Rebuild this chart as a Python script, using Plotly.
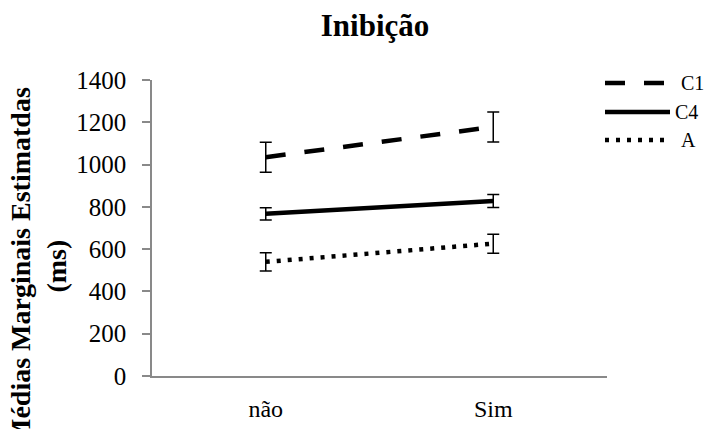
import plotly.graph_objects as go

categories = ["não", "Sim"]
series_names = ["C1", "C4", "A"]
c1_values = [1035, 1178]
c1_errors = [71, 71]
c4_values = [767, 828]
c4_errors = [29, 31]
a_values = [540, 626]
a_errors = [43, 45]
y_ticks = [0, 200, 400, 600, 800, 1000, 1200, 1400]

FONT = "Liberation Serif, Times New Roman, serif"
W, H = 709, 429
L, R, T, B = 152, 102, 80, 53
PW, PH = W - L - R, H - T - B

styles = {
    "C1": dict(dash="20px,19px", width=4.5),
    "C4": dict(dash="solid", width=4.5),
    "A": dict(dash="4px,7px", width=4.5),
}

fig = go.Figure()
for name, vals, errs in [("C1", c1_values, c1_errors),
                         ("C4", c4_values, c4_errors),
                         ("A", a_values, a_errors)]:
    fig.add_trace(go.Scatter(
        x=categories, y=vals, name=name, mode="lines",
        line=dict(color="black", **styles[name]),
        error_y=dict(type="data", array=errs, visible=True,
                     color="black", thickness=1.5, width=6),
        showlegend=False,
    ))

def px2paper(px, py):
    return (px - L) / PW, (H - B - py) / PH

# manual legend (long line samples like the original)
legend_rows = [("C1", 83, 679), ("C4", 112, 673), ("A", 140, 679)]
for name, py, tx in legend_rows:
    x0, y0 = px2paper(605, py)
    x1, _ = px2paper(670, py)
    fig.add_shape(type="line", xref="paper", yref="paper",
                  x0=x0, x1=x1, y0=y0, y1=y0,
                  line=dict(color="black", **styles[name]))
    ax, _ = px2paper(tx, py)
    fig.add_annotation(xref="paper", yref="paper", x=ax, y=y0,
                       xanchor="left", yanchor="middle", showarrow=False,
                       text=name, font=dict(family=FONT, size=20, color="black"))

tx, ty = px2paper(38, 266)
fig.add_annotation(xref="paper", yref="paper", x=tx, y=ty,
                   xanchor="center", yanchor="middle", showarrow=False,
                   textangle=-90,
                   text="<b>Médias Marginais Estimatdas</b><br><b>(ms)</b>",
                   font=dict(family=FONT, size=28, color="black"))

fig.update_layout(
    width=W, height=H,
    margin=dict(l=L, r=R, t=T, b=B, pad=0, autoexpand=False),
    paper_bgcolor="white", plot_bgcolor="white",
    font=dict(family=FONT, color="black"),
    title=dict(text="<b>Inibição</b>", x=375 / W, xanchor="center",
               y=1 - 25 / H, yanchor="middle", yref="container",
               font=dict(family=FONT, size=31, color="black")),
    xaxis=dict(type="category", range=[-0.5, 1.5], showgrid=False,
               showline=True, automargin=False,
               linecolor="#898989", linewidth=1.5, ticks="",
               tickfont=dict(family=FONT, size=24, color="black"),
               ticklabelstandoff=10, zeroline=False),
    yaxis=dict(range=[0, 1400], tickvals=y_ticks, showgrid=False,
               showline=True, automargin=False,
               linecolor="#898989", linewidth=1.5,
               ticks="outside", ticklen=8, tickcolor="#898989", tickwidth=1.5,
               tickfont=dict(family=FONT, size=25, color="black"),
               ticklabelstandoff=11, zeroline=False),
)

fig.write_html("out.html",
               config={"displayModeBar": False},
               post_script="document.body.style.margin='0';"
                           "document.body.style.overflow='hidden';")
